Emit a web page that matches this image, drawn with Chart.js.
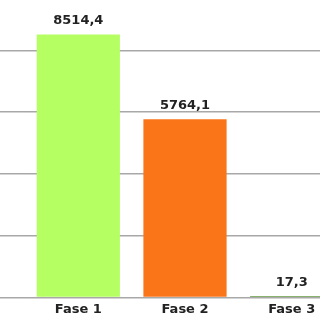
<!DOCTYPE html>
<html>
<head>
<meta charset="utf-8">
<script src="https://cdn.jsdelivr.net/npm/chart.js@4/dist/chart.umd.min.js"></script>
<style>
  html, body { margin: 0; padding: 0; width: 320px; height: 320px; overflow: hidden; background: #fff; }
  #wrap { position: absolute; left: 0; top: -19px; width: 345px; height: 340px; }
</style>
</head>
<body>
<div id="wrap"><canvas id="c"></canvas></div>
<script>
const categories = ['Fase 1', 'Fase 2', 'Fase 3'];
const values = [8514.4, 5764.1, 17.3];
const barColors = ['#b5ff62', '#f97518', '#5f9a3e'];
const yMin = 0;
const yMax = 10000;
const yStep = 2000;

const valueLabels = {
  id: 'valueLabels',
  afterDatasetsDraw(chart) {
    const ctx = chart.ctx;
    const meta = chart.getDatasetMeta(0);
    ctx.save();
    ctx.font = 'bold 13px "DejaVu Sans", Verdana, sans-serif';
    ctx.fillStyle = '#222';
    ctx.textAlign = 'center';
    ctx.textBaseline = 'middle';
    meta.data.forEach((el, i) => {
      const txt = values[i].toFixed(1).replace('.', ',');
      ctx.fillText(txt, el.x, Math.min(el.y, el.base - 0.5) - 13.5);
    });
    ctx.restore();
  }
};

new Chart(document.getElementById('c'), {
  type: 'bar',
  data: {
    labels: categories,
    datasets: [{
      data: values,
      backgroundColor: barColors,
      borderWidth: 0,
      barPercentage: 0.78,
      categoryPercentage: 1.0,
      minBarLength: 1.5
    }]
  },
  options: {
    responsive: true,
    maintainAspectRatio: false,
    animation: false,
    layout: { padding: { top: 7.5, bottom: 0, left: 0, right: 0 } },
    plugins: { legend: { display: false }, tooltip: { enabled: false } },
    scales: {
      x: {
        grid: { display: false, drawTicks: false },
        border: { display: false },
        ticks: {
          padding: 4,
          color: '#222',
          font: { family: '"DejaVu Sans", Verdana, sans-serif', size: 13, weight: 'bold' }
        }
      },
      y: {
        min: yMin,
        max: yMax,
        border: { display: false },
        grid: { color: '#a8a8a8', lineWidth: 1.5, drawTicks: true, tickLength: 25 },
        ticks: { display: false, stepSize: yStep }
      }
    }
  },
  plugins: [valueLabels]
});
</script>
</body>
</html>
